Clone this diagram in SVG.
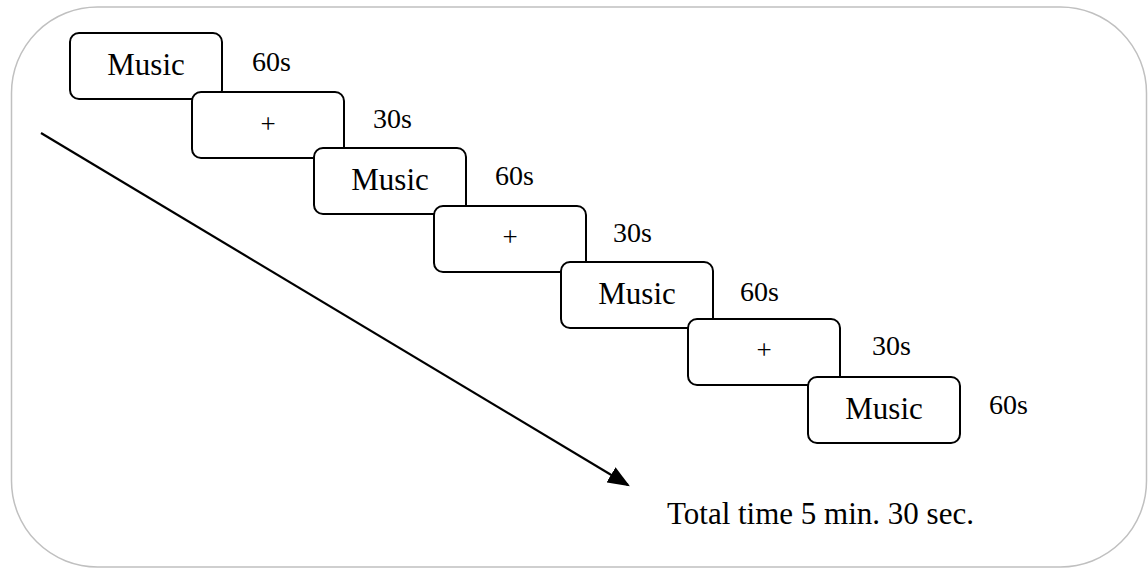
<svg xmlns="http://www.w3.org/2000/svg" width="1148" height="569" viewBox="0 0 1148 569">
<style>
.box{fill:#fff;stroke:#000;stroke-width:2}
text{font-family:"Liberation Serif","Times New Roman",serif;fill:#000}
</style>
<defs>
<marker id="ah" markerWidth="10" markerHeight="8" refX="9" refY="4" orient="auto" markerUnits="strokeWidth">
<path d="M0,0 L10,4 L0,8 Z" fill="#000"/>
</marker>
</defs>
<rect x="11.5" y="7" width="1135" height="560" rx="86" ry="86" fill="#fff" stroke="#c0c0c0" stroke-width="1.5"/>
<g id="connectors">
<line x1="41" y1="133" x2="628" y2="485" stroke="#000" stroke-width="2.2" marker-end="url(#ah)"/>
</g>
<g id="n1"><rect class="box" x="70" y="33" width="152" height="66" rx="9"/><text font-family="Liberation Serif, serif" font-size="31" text-anchor="middle" x="146" y="75">Music</text><text font-family="Liberation Serif, serif" font-size="28" x="252" y="71">60s</text></g>
<g id="n2"><rect class="box" x="192" y="92" width="152" height="66" rx="9"/><text font-family="Liberation Serif, serif" font-size="27" text-anchor="middle" x="268" y="133">+</text><text font-family="Liberation Serif, serif" font-size="28" x="373" y="128">30s</text></g>
<g id="n3"><rect class="box" x="314" y="148" width="152" height="66" rx="9"/><text font-family="Liberation Serif, serif" font-size="31" text-anchor="middle" x="390" y="190">Music</text><text font-family="Liberation Serif, serif" font-size="28" x="495" y="185">60s</text></g>
<g id="n4"><rect class="box" x="434" y="206" width="152" height="66" rx="9"/><text font-family="Liberation Serif, serif" font-size="27" text-anchor="middle" x="510" y="246">+</text><text font-family="Liberation Serif, serif" font-size="28" x="613" y="242">30s</text></g>
<g id="n5"><rect class="box" x="561" y="262" width="152" height="66" rx="9"/><text font-family="Liberation Serif, serif" font-size="31" text-anchor="middle" x="637" y="304">Music</text><text font-family="Liberation Serif, serif" font-size="28" x="740" y="301">60s</text></g>
<g id="n6"><rect class="box" x="688" y="319" width="152" height="66" rx="9"/><text font-family="Liberation Serif, serif" font-size="27" text-anchor="middle" x="764" y="359">+</text><text font-family="Liberation Serif, serif" font-size="28" x="872" y="355">30s</text></g>
<g id="n7"><rect class="box" x="808" y="377" width="152" height="66" rx="9"/><text font-family="Liberation Serif, serif" font-size="31" text-anchor="middle" x="884" y="419">Music</text><text font-family="Liberation Serif, serif" font-size="28" x="989" y="414">60s</text></g>
<g id="total"><text font-family="Liberation Serif, serif" font-size="31" x="667" y="524">Total time 5 min. 30 sec.</text></g>
</svg>
